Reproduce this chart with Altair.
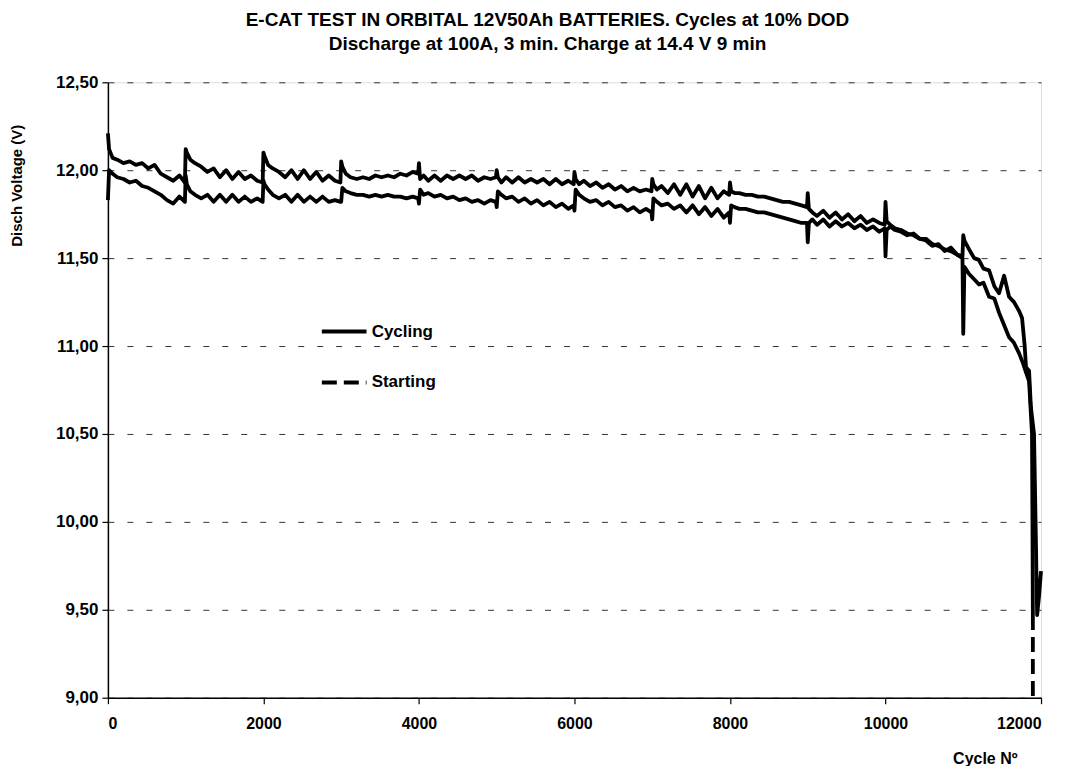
import altair as alt
import pandas as pd

# ---- data ----
block_starts = [0, 1000, 2000, 3000, 4000, 5000, 6000, 7000, 8000, 9000, 10000]
block_offsets = [0, 15, 60, 120, 200, 280, 360, 440, 520, 600, 680, 760, 840, 920, 990]

cycling_v = [
    12.21, 12.12, 12.07, 12.06, 12.04, 12.05, 12.03, 12.04, 12.01, 12.03, 11.98, 11.96, 11.94, 11.97, 11.93,
    12.12, 12.10, 12.06, 12.04, 12.02, 11.99, 12.01, 11.96, 12.00, 11.95, 11.99, 11.95, 11.97, 11.94, 11.93,
    12.10, 12.08, 12.03, 12.01, 11.99, 11.96, 12.00, 11.95, 12.00, 11.95, 11.99, 11.94, 11.97, 11.94, 11.93,
    12.05, 12.02, 11.98, 11.96, 11.95, 11.96, 11.95, 11.97, 11.96, 11.97, 11.96, 11.98, 11.97, 11.99, 11.98,
    12.04, 11.95, 11.97, 11.94, 11.97, 11.94, 11.97, 11.95, 11.97, 11.95, 11.97, 11.94, 11.96, 11.95, 11.96,
    12.00, 11.96, 11.93, 11.96, 11.93, 11.96, 11.93, 11.95, 11.93, 11.95, 11.92, 11.95, 11.92, 11.94, 11.92,
    11.99, 11.95, 11.92, 11.94, 11.91, 11.93, 11.90, 11.92, 11.89, 11.91, 11.88, 11.90, 11.88, 11.89, 11.88,
    11.95, 11.92, 11.89, 11.91, 11.87, 11.92, 11.86, 11.92, 11.85, 11.91, 11.84, 11.90, 11.84, 11.88, 11.86,
    11.93, 11.88, 11.87, 11.87, 11.86, 11.86, 11.85, 11.85, 11.84, 11.83, 11.82, 11.82, 11.81, 11.80, 11.79,
    11.87, 11.78, 11.76, 11.74, 11.77, 11.73, 11.76, 11.72, 11.75, 11.71, 11.74, 11.70, 11.72, 11.70, 11.69,
    11.82, 11.71, 11.69, 11.67, 11.66, 11.64, 11.63, 11.61, 11.60, 11.57, 11.58, 11.54, 11.56, 11.52, 11.51,
]
starting_v = [
    11.83, 12.00, 11.98, 11.96, 11.95, 11.93, 11.94, 11.91, 11.90, 11.88, 11.86, 11.83, 11.81, 11.85, 11.82,
    11.97, 11.92, 11.88, 11.86, 11.84, 11.86, 11.82, 11.86, 11.82, 11.86, 11.82, 11.85, 11.82, 11.84, 11.82,
    11.94, 11.92, 11.89, 11.86, 11.84, 11.86, 11.82, 11.86, 11.82, 11.85, 11.82, 11.85, 11.82, 11.83, 11.82,
    11.82, 11.90, 11.88, 11.87, 11.86, 11.86, 11.85, 11.86, 11.85, 11.86, 11.85, 11.85, 11.84, 11.85, 11.84,
    11.81, 11.89, 11.86, 11.87, 11.85, 11.86, 11.84, 11.85, 11.83, 11.84, 11.82, 11.83, 11.81, 11.83, 11.82,
    11.79, 11.88, 11.86, 11.84, 11.85, 11.82, 11.84, 11.81, 11.83, 11.80, 11.82, 11.79, 11.81, 11.78, 11.80,
    11.77, 11.89, 11.86, 11.84, 11.82, 11.83, 11.80, 11.82, 11.79, 11.80, 11.77, 11.79, 11.76, 11.78, 11.76,
    11.72, 11.84, 11.82, 11.80, 11.81, 11.78, 11.80, 11.76, 11.80, 11.75, 11.79, 11.74, 11.78, 11.73, 11.76,
    11.70, 11.80, 11.79, 11.78, 11.78, 11.77, 11.76, 11.76, 11.75, 11.74, 11.73, 11.72, 11.71, 11.70, 11.70,
    11.59, 11.70, 11.72, 11.69, 11.72, 11.68, 11.71, 11.68, 11.70, 11.67, 11.69, 11.66, 11.68, 11.65, 11.67,
    11.51, 11.66, 11.68, 11.66, 11.65, 11.63, 11.64, 11.61, 11.61, 11.58, 11.57, 11.55, 11.54, 11.52, 11.50,
]

cycling_tail_x = [11000, 11015, 11075, 11140, 11200, 11260, 11332, 11400, 11460, 11525, 11589, 11653,
                  11717, 11756, 11790, 11807, 11846, 11870, 11910, 11930, 11950, 11975, 12000]
cycling_tail_v = [11.63, 11.60, 11.55, 11.50, 11.49, 11.44, 11.43, 11.34, 11.30, 11.40, 11.28, 11.25,
                  11.20, 11.16, 11.00, 10.88, 10.86, 10.65, 10.50, 10.00, 9.47, 9.58, 9.72]

starting_tail_x = [11000, 11015, 11075, 11140, 11203, 11260, 11332, 11400, 11460, 11525, 11589, 11650,
                   11717, 11770, 11807, 11846, 11884, 11890, 11895]
starting_tail_v = [11.07, 11.45, 11.41, 11.38, 11.35, 11.36, 11.28, 11.27, 11.19, 11.12, 11.05, 11.02,
                   10.96, 10.90, 10.85, 10.80, 10.50, 10.00, 9.47]

starting_drop_x = [11895, 11895]
starting_drop_v = [9.47, 9.00]

series_names = ["Cycling", "Starting"]
y_ticks = [9.0, 9.5, 10.0, 10.5, 11.0, 11.5, 12.0, 12.5]
x_ticks = [0, 2000, 4000, 6000, 8000, 10000, 12000]

title_lines = ["E-CAT TEST IN ORBITAL 12V50Ah BATTERIES. Cycles at 10% DOD",
               "Discharge at 100A, 3 min. Charge at 14.4 V 9 min"]

# ---- build tables ----
cycles = [s + o for s in block_starts for o in block_offsets]
rows = []
for name, vals, tx, tv in [("Cycling", cycling_v, cycling_tail_x, cycling_tail_v),
                           ("Starting", starting_v, starting_tail_x, starting_tail_v)]:
    xs = cycles + tx
    vs = vals + tv
    for i, (c, v) in enumerate(zip(xs, vs)):
        rows.append({"cycle": c, "v": v, "series": name, "idx": i})
df = pd.DataFrame(rows)

drop_df = pd.DataFrame({"cycle": starting_drop_x, "v": starting_drop_v,
                        "series": ["Starting"] * len(starting_drop_x),
                        "idx": list(range(len(starting_drop_x)))})

FONT = "Liberation Sans"

x_enc = alt.X("cycle:Q",
              scale=alt.Scale(domain=[0, 12000], nice=False),
              axis=alt.Axis(values=x_ticks, title="Cycle Nº", grid=False, format="d",
                            labelFont=FONT, labelFontSize=16, labelFontWeight="bold",
                            labelColor="black", labelPadding=12,
                            titleFont=FONT, titleFontSize=16, titleFontWeight="bold",
                            titleColor="black", titleAnchor="end", titleAlign="right",
                            titleX=910, titleY=61, titleBaseline="middle",
                            domainColor="black", domainWidth=1.5, tickColor="black",
                            tickSize=6, tickWidth=1.2))
y_enc = alt.Y("v:Q",
              scale=alt.Scale(domain=[9, 12.5], nice=False, zero=False),
              axis=alt.Axis(values=y_ticks, title="Disch Voltage (V)",
                            labelExpr="replace(format(datum.value, '.2f'), '.', ',')",
                            grid=True, gridDash=[6, 13], gridColor="#333", gridWidth=1,
                            labelFont=FONT, labelFontSize=17, labelFontWeight="bold",
                            labelColor="black", labelPadding=4,
                            titleFont=FONT, titleFontSize=15, titleFontWeight="bold",
                            titleColor="black", titleAlign="center", titleAngle=-90,
                            titleX=-98, titleY=103, titleBaseline="top",
                            domainColor="black", domainWidth=1.5, tickColor="black",
                            tickSize=6, tickWidth=1.2))

lines = alt.Chart(df).mark_line(color="black", strokeWidth=3.8, strokeJoin="round").encode(
    x=x_enc, y=y_enc, detail="series:N", order="idx:Q")

drop = alt.Chart(drop_df).mark_line(color="black", strokeWidth=3.8).encode(
    x="cycle:Q", y="v:Q", order="idx:Q",
    strokeDash=alt.StrokeDash(
        "series:N",
        scale=alt.Scale(domain=series_names, range=[[1, 0], [15, 7]]),
        legend=alt.Legend(title=None, orient="none", legendX=212, legendY=225,
                          symbolType="stroke", symbolStrokeColor="black",
                          symbolStrokeWidth=4, symbolSize=2000,
                          labelFont=FONT, labelFontSize=17, labelFontWeight="bold",
                          labelColor="black", labelOffset=3, rowPadding=18)))

chart = alt.layer(lines, drop).properties(
    width=934, height=616,
    autosize=alt.AutoSizeParams(type="none"),
    padding={"left": 100, "top": 74, "right": 20, "bottom": 68},
    title=alt.Title(title_lines, font=FONT, fontSize=19, fontWeight="bold", color="black",
                    lineHeight=24, anchor="middle", dx=-27, offset=19),
).configure_view(stroke="#222", strokeWidth=1).configure(background="white")

chart.save("out.html", embed_options={"renderer": "svg", "actions": False})
